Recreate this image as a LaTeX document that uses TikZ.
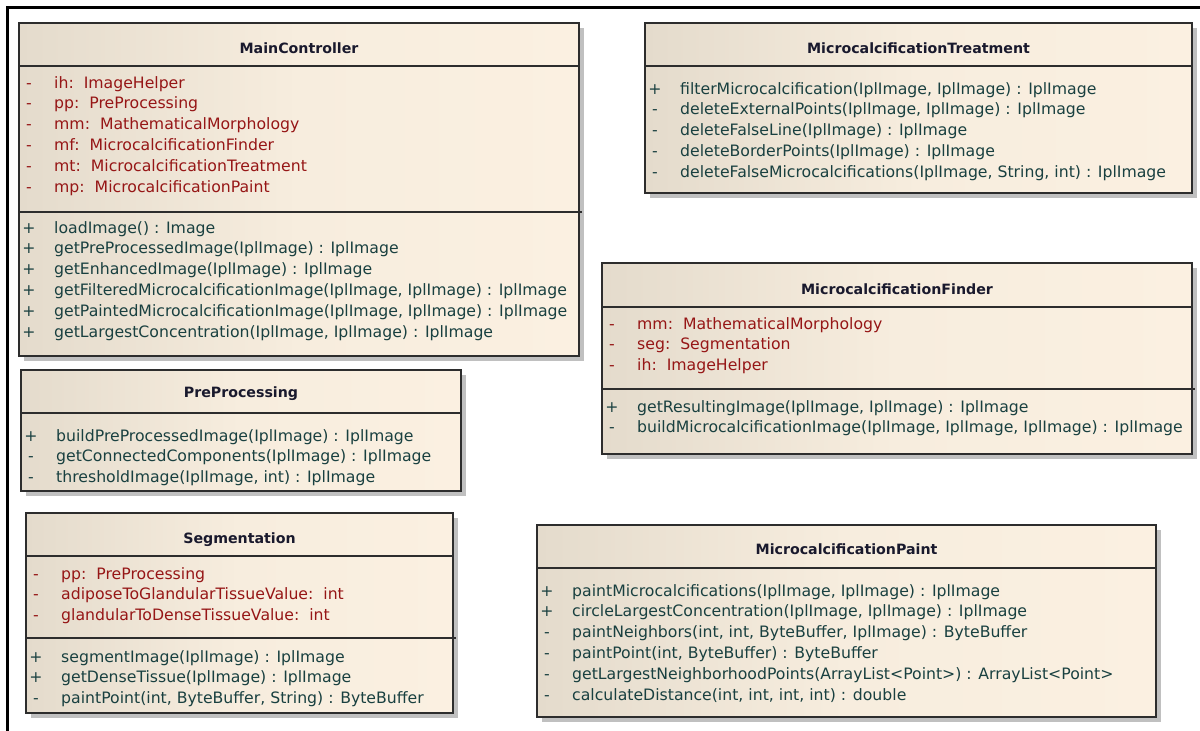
\documentclass[tikz,border=0pt]{standalone}
\usepackage{fontspec}
\setmainfont{DejaVu Sans}

\definecolor{boxleft}{RGB}{228,219,204}
\definecolor{boxmid}{RGB}{247,237,222}
\definecolor{boxright}{RGB}{251,240,225}
\definecolor{boxline}{RGB}{45,45,45}
\definecolor{shadowgray}{RGB}{192,192,192}
\definecolor{attrred}{RGB}{150,22,22}
\definecolor{methteal}{RGB}{25,64,64}
\definecolor{titleink}{RGB}{25,25,45}

\tikzset{
  classframe/.style={rectangle, draw=boxline, line width=1.4pt, inner sep=0pt, outer sep=0pt,
    left color=boxleft, right color=boxright, middle color=boxmid, anchor=north west},
  classshadow/.style={fill=shadowgray, draw=none},
  sepline/.style={draw=boxline, line width=1.2pt},
  classtitle/.style={font=\fontsize{14.2}{17}\selectfont\bfseries, text=titleink, inner sep=0pt, anchor=base},
  attrrow/.style={font=\fontsize{15.7}{20}\selectfont, text=attrred, inner sep=0pt},
  methrow/.style={font=\fontsize{15.7}{20}\selectfont, text=methteal, inner sep=0pt},
  frameline/.style={draw=black, line width=3pt},
}

% class box with its drop shadow: name, left, top, right, bottom
\newcommand\umlbox[5]{%
  \fill[classshadow] ({#2+5},{#3+5}) rectangle ({#4+5},{#5+5});
  \node[classframe, minimum width={(#4-#2)*1pt}, minimum height={(#5-#3)*1pt}] (#1) at (#2,#3) {};
}
% compartment rows: prefix, style, box left, first baseline, list of marker/text
\newcommand\umlrows[5]{%
  \foreach \m/\t [count=\i] in {#5} {
    \node[#2, anchor=base west] (#1\i) at ({#3+35},{#4+(\i-1)*20.8}) {\t};
    \node[#2, anchor=base] (#1m\i) at ({#3+10},{#4+(\i-1)*20.8}) {\m};
  }%
}

\begin{document}
\begin{tikzpicture}[x=1pt, y=-1pt]
\useasboundingbox (0,0) rectangle (1200,731);
\fill[white] (0,0) rectangle (1200,731);

% page frame
\draw[frameline] (7,740) -- (7,7) -- (1210,7);

% ---------------- MainController
\umlbox{mc}{19}{23}{579}{356}
\draw[sepline] (19,66) -- (579,66);
\draw[sepline] (19,212) -- (582,212);
\node[classtitle] (mc-t) at (299,53) {MainController};
\umlrows{mc-a}{attrrow}{19}{88}{
  {-}/{ih:\ \ ImageHelper},
  {-}/{pp:\ \ PreProcessing},
  {-}/{mm:\ \ MathematicalMorphology},
  {-}/{mf:\ \ MicrocalcificationFinder},
  {-}/{mt:\ \ MicrocalcificationTreatment},
  {-}/{mp:\ \ MicrocalcificationPaint}}
\umlrows{mc-o}{methrow}{19}{233}{
  {+}/{loadImage() : Image},
  {+}/{getPreProcessedImage(IplImage) : IplImage},
  {+}/{getEnhancedImage(IplImage) : IplImage},
  {+}/{getFilteredMicrocalcificationImage(IplImage, IplImage) : IplImage},
  {+}/{getPaintedMicrocalcificationImage(IplImage, IplImage) : IplImage},
  {+}/{getLargestConcentration(IplImage, IplImage) : IplImage}}

% ---------------- MicrocalcificationTreatment
\umlbox{mt}{645}{23}{1192}{193}
\draw[sepline] (645,66) -- (1192,66);
\node[classtitle] (mt-t) at (918.5,53) {MicrocalcificationTreatment};
\umlrows{mt-o}{methrow}{645}{94}{
  {+}/{filterMicrocalcification(IplImage, IplImage) : IplImage},
  {-}/{deleteExternalPoints(IplImage, IplImage) : IplImage},
  {-}/{deleteFalseLine(IplImage) : IplImage},
  {-}/{deleteBorderPoints(IplImage) : IplImage},
  {-}/{deleteFalseMicrocalcifications(IplImage, String, int) : IplImage}}

% ---------------- MicrocalcificationFinder
\umlbox{mf}{602}{263}{1192}{454}
\draw[sepline] (602,307) -- (1192,307);
\draw[sepline] (602,389) -- (1195,389);
\node[classtitle] (mf-t) at (897,294) {MicrocalcificationFinder};
\umlrows{mf-a}{attrrow}{602}{329}{
  {-}/{mm:\ \ MathematicalMorphology},
  {-}/{seg:\ \ Segmentation},
  {-}/{ih:\ \ ImageHelper}}
\umlrows{mf-o}{methrow}{602}{412}{
  {+}/{getResultingImage(IplImage, IplImage) : IplImage},
  {-}/{buildMicrocalcificationImage(IplImage, IplImage, IplImage) : IplImage}}

% ---------------- PreProcessing
\umlbox{pp}{21}{370}{461}{491}
\draw[sepline] (21,413) -- (461,413);
\node[classtitle] (pp-t) at (241,397) {PreProcessing};
\umlrows{pp-o}{methrow}{21}{441}{
  {+}/{buildPreProcessedImage(IplImage) : IplImage},
  {-}/{getConnectedComponents(IplImage) : IplImage},
  {-}/{thresholdImage(IplImage, int) : IplImage}}

% ---------------- Segmentation
\umlbox{sg}{26}{513}{453}{713}
\draw[sepline] (26,556) -- (453,556);
\draw[sepline] (26,638) -- (456,638);
\node[classtitle] (sg-t) at (239.5,543) {Segmentation};
\umlrows{sg-a}{attrrow}{26}{579}{
  {-}/{pp:\ \ PreProcessing},
  {-}/{adiposeToGlandularTissueValue:\ \ int},
  {-}/{glandularToDenseTissueValue:\ \ int}}
\umlrows{sg-o}{methrow}{26}{662}{
  {+}/{segmentImage(IplImage) : IplImage},
  {+}/{getDenseTissue(IplImage) : IplImage},
  {-}/{paintPoint(int, ByteBuffer, String) : ByteBuffer}}

% ---------------- MicrocalcificationPaint
\umlbox{mp}{537}{525}{1156}{717}
\draw[sepline] (537,568) -- (1156,568);
\node[classtitle] (mp-t) at (846.5,554) {MicrocalcificationPaint};
\umlrows{mp-o}{methrow}{537}{596}{
  {+}/{paintMicrocalcifications(IplImage, IplImage) : IplImage},
  {+}/{circleLargestConcentration(IplImage, IplImage) : IplImage},
  {-}/{paintNeighbors(int, int, ByteBuffer, IplImage) : ByteBuffer},
  {-}/{paintPoint(int, ByteBuffer) : ByteBuffer},
  {-}/{getLargestNeighborhoodPoints(ArrayList<Point>) : ArrayList<Point>},
  {-}/{calculateDistance(int, int, int, int) : double}}
\end{tikzpicture}
\end{document}
